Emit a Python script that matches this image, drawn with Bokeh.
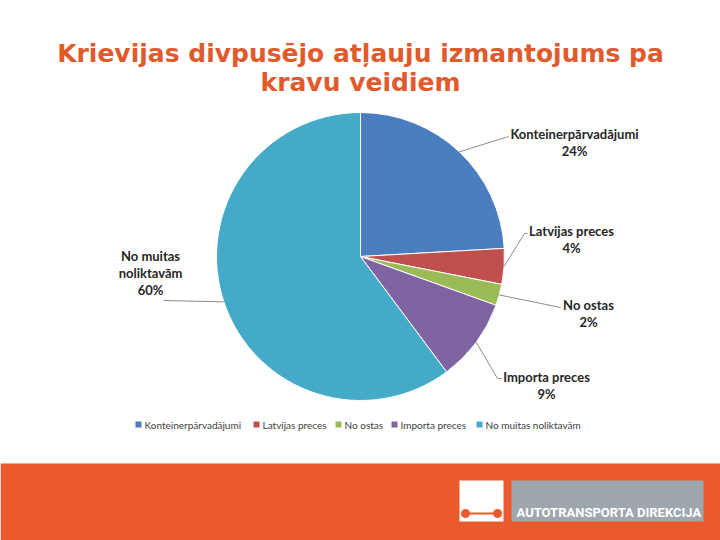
import math
from bokeh.plotting import figure
from bokeh.models import Range1d
from bokeh.core.properties import value
from bokeh.embed import file_html
from bokeh.resources import INLINE

# ---- data ----
categories = ["Konteinerpārvadājumi", "Latvijas preces", "No ostas", "Importa preces", "No muitas noliktavām"]
shares = [24.1, 4.0, 2.4, 9.3, 60.2]
pct_labels = ["24%", "4%", "2%", "9%", "60%"]
label_lines = [["Konteinerpārvadājumi"], ["Latvijas preces"], ["No ostas"], ["Importa preces"], ["No muitas", "noliktavām"]]
colors = ["#4A7EBF", "#C0504D", "#9BBB59", "#8064A2", "#45A9C8"]
title_lines = ["Krievijas divpusējo atļauju izmantojums pa", "kravu veidiem"]

W, H = 720, 540
def Y(py):
    return H - py

p = figure(width=W, height=H, x_range=Range1d(0, W), y_range=Range1d(0, H),
           output_backend="svg", toolbar_location=None, min_border=0)
p.axis.visible = False
p.grid.visible = False
p.outline_line_color = None
p.background_fill_color = "white"

# footer band
p.quad(left=0, right=W, bottom=0, top=Y(463), fill_color="#EB5A2D", line_color=None)
# logo boxes
p.quad(left=459, right=503, bottom=Y(521), top=Y(480), fill_color="white", line_color=None)
p.quad(left=511, right=703, bottom=Y(521), top=Y(480), fill_color="#9EA6AE", line_color=None)
p.segment(x0=[465], y0=[Y(513)], x1=[497], y1=[Y(513)], line_color="#EB5A2D", line_width=2)
p.scatter(x=[465, 497], y=[Y(513), Y(513)], size=9, fill_color="#EB5A2D", line_color=None)
p.text(x=[516], y=[Y(512)], text=["AUTOTRANSPORTA DIREKCIJA"], text_color="white",
       text_font=value("Roboto"), text_font_style="bold", text_font_size="13px",
       text_baseline="middle", text_align="left")

# title
p.text(x=[360, 360], y=[Y(53), Y(82)], text=title_lines, text_color="#E05A2B",
       text_font=value("DejaVu Sans"), text_font_style="bold", text_font_size="25px",
       text_align="center", text_baseline="middle")

# pie
cx, cy, r = 360, Y(256), 144
total = sum(shares)
cum = 0.0
starts, ends, mids = [], [], []
for s in shares:
    a0 = math.pi / 2 - 2 * math.pi * cum / total
    cum += s
    a1 = math.pi / 2 - 2 * math.pi * cum / total
    starts.append(a0)
    ends.append(a1)
    mids.append((a0 + a1) / 2)
p.wedge(x=cx, y=cy, radius=r, start_angle=starts, end_angle=ends, direction="clock",
        fill_color=colors, line_color="white", line_width=1)

# leader lines and labels (label anchor positions are layout)
leader_ends = [[(508, 136)], [(524, 233), (527, 233)], [(560, 307)], [(497, 378), (501, 378)], [(163, 300)]]
label_centers = [(574, 133), (571, 230), (588, 304), (546, 376), (150, 255)]
line_gap = 17
for i in range(len(categories)):
    sx = cx + r * math.cos(mids[i])
    sy = cy + r * math.sin(mids[i])
    xs = [sx] + [e[0] for e in leader_ends[i]]
    ys = [sy] + [Y(e[1]) for e in leader_ends[i]]
    p.line(x=xs, y=ys, line_color="#8C8C8C", line_width=1)
    lx, ly = label_centers[i]
    texts = label_lines[i] + [pct_labels[i]]
    p.text(x=[lx] * len(texts), y=[Y(ly + k * line_gap) for k in range(len(texts))], text=texts,
           text_color="#262626", text_font=value("Lato"), text_font_style="bold",
           text_font_size="13px", text_align="center", text_baseline="middle")

# legend
leg_sq_x = [138, 256, 338, 394, 479]
leg_y = Y(424)
p.scatter(x=leg_sq_x, y=[leg_y] * 5, marker="square", size=6, fill_color=colors, line_color=None)
p.text(x=[x + 6 for x in leg_sq_x], y=[leg_y] * 5, text=categories, text_color="#404040",
       text_font=value("Lato"), text_font_size="10px", text_align="left", text_baseline="middle")

open("out.html", "w").write(file_html(p, INLINE))
